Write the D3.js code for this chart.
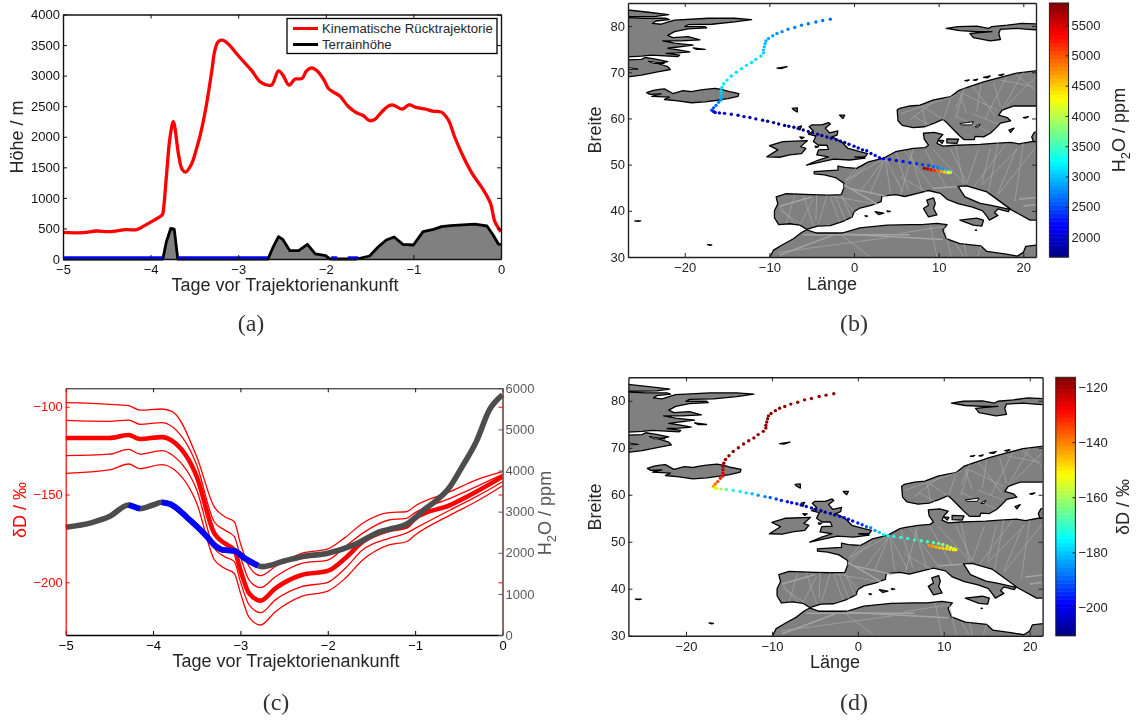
<!DOCTYPE html>
<html><head><meta charset="utf-8">
<script src="https://cdn.jsdelivr.net/npm/d3@7"></script>
<style>html,body{margin:0;background:#fff}svg{display:block;filter:blur(.35px)}text{font-family:"Liberation Sans",Arial,sans-serif;fill:#262626}</style>
</head><body><svg id="c" width="1138" height="720"></svg>
<script>
// ---------- panel (a) ----------
const heightKnots=[[-5,436],[-4.77,430],[-4.62,458],[-4.47,447],[-4.28,480],[-4.16,480],[-4.09,529],[-3.97,627],[-3.87,719],[-3.86,747],[-3.82,1346],[-3.78,1973],[-3.74,2245],[-3.68,1700],[-3.64,1466],[-3.6,1422],[-3.53,1564],[-3.48,1782],[-3.42,2109],[-3.36,2545],[-3.3,3090],[-3.27,3390],[-3.23,3553],[-3.18,3580],[-3.1,3499],[-3.02,3362],[-2.92,3199],[-2.85,3090],[-2.75,2899],[-2.7,2861],[-2.62,2845],[-2.54,3079],[-2.49,3008],[-2.42,2845],[-2.35,2943],[-2.27,2954],[-2.22,3079],[-2.16,3128],[-2.1,3079],[-2.02,2926],[-1.97,2790],[-1.92,2736],[-1.84,2665],[-1.74,2490],[-1.65,2392],[-1.57,2343],[-1.5,2262],[-1.44,2283],[-1.36,2409],[-1.28,2507],[-1.23,2518],[-1.13,2452],[-1.05,2523],[-0.97,2480],[-0.86,2452],[-0.78,2420],[-0.68,2403],[-0.6,2272],[-0.53,2000],[-0.43,1673],[-0.33,1400],[-0.2,1128],[-0.12,910],[-0.07,610],[-0.02,485],[0,447]];
const terrainKnots=[[-5,0],[-3.86,0],[-3.82,283],[-3.77,500],[-3.73,490],[-3.69,0],[-2.66,0],[-2.6,200],[-2.54,365],[-2.49,320],[-2.41,136],[-2.31,136],[-2.21,240],[-2.12,82],[-2,55],[-1.95,0],[-1.65,0],[-1.5,49],[-1.4,200],[-1.31,310],[-1.22,360],[-1.12,240],[-1,229],[-0.89,447],[-0.77,485],[-0.68,529],[-0.58,545],[-0.3,572],[-0.16,540],[-0.09,392],[-0.03,245],[0,240]];
const seaSegments=[[-5,-3.86],[-3.69,-2.66],[-1.94,-1.87],[-1.75,-1.63]];
const legendLabels=["Kinematische Rücktrajektorie","Terrainhöhe"];
const dayTicks=[-5,-4,-3,-2,-1,0];
const heightTicks=[0,500,1000,1500,2000,2500,3000,3500,4000];
// ---------- panel (c) ----------
const isoTimes=[-5,-4.5,-4.28,-4.15,-3.9,-3.78,-3.5,-3.3,-3.18,-3.07,-3,-2.9,-2.77,-2.6,-2.3,-2,-1.8,-1.6,-1.3,-1.1,-1,-0.6,-0.3,0];
const dDupper2=[-97.7,-98.6,-99.4,-101.9,-101.3,-102.8,-128.5,-157,-162.6,-165.5,-177.8,-191,-196.2,-191,-183.5,-181,-174.4,-166.4,-160.3,-159.8,-156.5,-148.4,-141.7,-137];
const dDupper1=[-107.8,-108.3,-107.6,-110,-109,-111.4,-133.2,-165.5,-170.2,-174,-185.4,-198.7,-203,-196.8,-189.2,-187.3,-179.7,-172,-164.5,-163.6,-160.3,-152.2,-145.5,-138.5];
const dDcentre=[-117.8,-117.8,-116.1,-118.4,-117.3,-119.5,-139.8,-172,-177.8,-181.6,-193,-206.3,-210.4,-203.4,-195.8,-193.5,-186.3,-176.9,-170.2,-168.3,-163.6,-156,-148.4,-139.8];
const dDlower1=[-127.9,-127,-124.3,-127,-125,-127.5,-147.4,-180.6,-185.4,-188.2,-199.6,-212.9,-217.3,-210,-202.5,-200,-192,-181.5,-175,-172,-169.3,-158.8,-151.2,-142.7];
const dDlower2=[-138,-136,-132.6,-135.3,-133,-135,-155,-187,-192,-195,-206,-220,-224.3,-216.7,-208,-205,-197.7,-187.3,-178.7,-176.9,-173,-161.7,-154,-145];
const h2oKnots=[[-5,2620],[-4.7,2733],[-4.5,2880],[-4.28,3163],[-4.15,3073],[-4,3163],[-3.9,3228],[-3.8,3180],[-3.6,2838],[-3.4,2433],[-3.3,2190],[-3.2,2068],[-3.07,2044],[-2.95,1865],[-2.8,1687],[-2.75,1663],[-2.5,1800],[-2.3,1906],[-2,1987],[-1.7,2190],[-1.4,2514],[-1.25,2595],[-1.1,2693],[-0.9,3041],[-0.6,3609],[-0.45,4136],[-0.3,4704],[-0.15,5474],[0,5840]];
const blueSegments=[[-4.28,-4.15],[-3.9,-2.8]];
const dDTicks=[-100,-150,-200];
const h2oTicks=[0,1000,2000,3000,4000,5000,6000];
// ---------- maps ----------
const lonTicks=[-20,-10,0,10,20];
const latTicks=[30,40,50,60,70,80];
const land=[
[[-28,83.6],[-26.8,83.5],[-24.3,83],[-21.9,82.5],[-23.4,82.1],[-28,82]],
[[-28,81.9],[-24.7,81.7],[-22.2,81.7],[-21.8,81.4],[-23.4,81.1],[-23.8,80.6],[-22.8,80.4],[-21.2,81.3],[-17.2,81.7],[-14.1,81.7],[-12.1,81.4],[-14.1,80.9],[-16.8,80.4],[-19.6,80.3],[-20,79.9],[-17.6,79.9],[-17.4,79.6],[-19.6,79.4],[-21.2,78.8],[-22,78],[-21.4,77.5],[-19.6,77.7],[-18.2,77],[-20.4,76.8],[-22.6,76.8],[-21.2,76.3],[-19,75.9],[-22,75.2],[-20.6,74.8],[-19.4,74.4],[-20.8,74.2],[-22.2,74.1],[-20.6,73.7],[-20.8,73.4],[-23.9,73.7],[-25.1,73.5],[-28,73.2]],
[[-28,72.6],[-25.1,72.8],[-24.7,73.2],[-23.6,72.9],[-22,72.3],[-23.2,71.9],[-22,71.2],[-21.7,70.6],[-23.2,70.1],[-25.1,69.4],[-28,68.7]],
[[-19,75.3],[-17.6,74.95],[-18.6,74.95]],
[[-9.1,70.9],[-7.9,71.2],[-8.6,70.8]],
[[-7.3,62.2],[-6.7,62.3],[-6.7,61.4],[-7.1,61.8]],
[[-24.5,65.6],[-23.7,66.1],[-23,66.3],[-22.4,66.4],[-21.4,65.4],[-20.2,66],[-19.2,65.8],[-18.4,66.1],[-17.6,66.3],[-16.4,66.5],[-15.7,66.3],[-14.7,65.8],[-13.6,65.4],[-13.7,64.8],[-14.9,64.3],[-15.9,64],[-17.6,63.6],[-19.2,63.4],[-20.8,63.8],[-22.4,64.1],[-21.8,64.6],[-23.9,64.8],[-22.8,65.3],[-24.1,65.2]],
[[10.9,79.5],[12.3,79.9],[14.5,80],[15.9,79.5],[16.3,79.9],[18.1,80.2],[19.8,80.6],[22.5,80.4],[22.5,79.1],[20.6,79.3],[19.2,79.5],[17.3,79.3],[17.1,78.4],[17.3,77.1],[16.1,76.8],[14.1,77.5],[13.7,78.4],[14.9,78.6],[16.3,78.8],[14.5,78.8],[12.5,79]],
[[-5.3,58.2],[-5,58.6],[-3.8,58.6],[-3,59.1],[-2.8,58.8],[-3.4,57.9],[-2.9,56.9],[-1.9,57.3],[-2,56.4],[-2.6,56],[-1.5,55],[-0.7,53.5],[0.7,52.8],[1.6,52.4],[1.3,51.7],[0.1,51.7],[1.3,51.4],[-0.5,51],[-2.4,51.2],[-4.4,50.4],[-5.6,49.9],[-4.2,51],[-3,51.7],[-4.4,52.1],[-4.2,53.2],[-3,53.3],[-3.2,54.2],[-4.2,54.2],[-4.8,55],[-4.5,56.2],[-5.4,56.6],[-4.8,57.3]],
[[-10,54.1],[-8.4,55],[-5.5,55.2],[-6.3,53.9],[-5.7,53.5],[-6.2,52.4],[-7.6,52.1],[-8.8,51.6],[-10.3,51.7],[-9,53.2]],
[[-6.6,58.2],[-6.2,58.4],[-6.4,57.5]],[[-6.4,56],[-5.9,55.9],[-6.2,55.6]],[[-4.6,54],[-4.2,53.9],[-4.5,53.7]],[[-1.7,60.7],[-1.1,60.7],[-1.3,60]],
[[-4.7,48.5],[-3.8,48.6],[-1.9,48.8],[-1.9,49.7],[-1.1,49.4],[0.3,49.2],[1.7,50.6],[3.5,51.4],[4.9,52.8],[5.4,53],[7,53.5],[8.4,53.7],[8.8,54.2],[8.3,55.5],[8.2,56.8],[9.5,57],[10.5,56.5],[10,55.5],[9.8,54.6],[10.5,54],[12,54.2],[13.3,54.3],[14.9,54.4],[16.5,54.6],[18.5,54.8],[19.5,54.5],[21,55],[22.5,55.2],[22.5,38],[20.8,38],[18.6,40.2],[15.7,44.1],[13.3,45.4],[12.3,45.3],[13.1,43],[14.9,41.6],[16.2,41.2],[18.4,40.3],[18.2,39.8],[17,40.4],[16.6,39.6],[17,39],[16,38],[15.7,38.8],[15.2,40],[14,40.8],[12.4,41.5],[11,42.5],[10.2,43.8],[8.8,44.4],[7.5,43.8],[6,43.1],[4.9,43.5],[3.3,43.2],[3.2,42],[2,41.2],[0.7,40.6],[0,39.8],[-0.2,38.7],[-1.3,37.7],[-2.8,36.8],[-4.3,36.7],[-5.6,36],[-6.4,36.9],[-7.6,37.2],[-8.9,37],[-9.4,38.5],[-9.4,40],[-9,41.5],[-9.2,43],[-8,43.7],[-5,43.5],[-3,43.4],[-1.5,43.5],[-1.2,45],[-1.2,46],[-2.2,47.2],[-3.5,47.8],[-4.7,48]],
[[-9.9,29],[-9.9,30.1],[-9.5,31.5],[-8.4,32.7],[-7.2,33.9],[-6.2,35.3],[-5.6,35.9],[-4.5,35.2],[-2.8,35.2],[-1.3,35.2],[0.7,36.3],[3.9,36.9],[6.6,37],[8,37],[9.8,37.3],[11,37],[10.5,35.8],[10.9,34],[12.5,32.9],[15,32.4],[15.7,31.2],[18,30.6],[19.3,30.2],[20,31],[20.3,32.3],[22.5,32.8],[22.5,29]],
[[5.1,61.8],[5.4,62.2],[6.6,62.7],[7.8,62.9],[9.4,64],[11.4,64.7],[12.4,66.1],[13.3,66.7],[15.3,67.9],[17.3,68.9],[19.2,69.8],[21.4,70.3],[22.5,70.5],[22.5,63],[21.4,62.7],[18.9,62.7],[17.5,61.8],[17.1,60.7],[18.1,60.2],[18.5,59.5],[17.3,59],[16.7,57.8],[16.1,56.8],[15.3,56],[14.3,56.1],[14.2,55.4],[13,55.4],[12.5,56.2],[11.8,57.5],[11,59],[10.5,59.8],[9.5,59],[8.3,58.2],[7,58],[5.7,58.5],[5.2,59.5]],
[[22.5,57.5],[21.3,57],[21,56],[21.2,55],[22.5,55]],
[[10.97,55.6],[12.35,55.5],[12.15,54.6],[10.97,54.7]],[[9.98,55.3],[10.6,55.2],[10.4,54.6]],
[[8.6,42.3],[9.4,42.8],[9.6,41.6],[9.4,40.5],[9.8,39.1],[8.8,38.7],[8.2,40.5],[8.8,41.2]],
[[12.5,38],[14.5,38.4],[15.3,38],[15.1,36.7],[14.1,36.9]],
[[1.3,38.95],[1.6,38.85],[1.4,38.75]],[[2.5,39.8],[3.5,39.5],[2.9,39.2]],[[3.9,40],[4.3,39.9],[4,39.8]],
[[18.3,57.5],[18.9,57.9],[18.5,57]],[[20,60.2],[20.6,60.4],[20.3,60.1]],[[-25.9,37.8],[-25.2,37.8],[-25.5,37.7]],[[-17.3,32.7],[-16.8,32.6],[-17,32.5]],[[14.4,35.9],[14.5,35.8],[14.35,35.75]],
[[13.1,68.2],[13.6,68.35],[13.4,68.15]],[[14.1,68.3],[14.6,68.5],[14.4,68.25]],[[15.3,68.9],[16.1,69.2],[15.8,68.8]],[[17.1,69.4],[17.7,69.6],[17.4,69.3]]
];
const lakes=[[[-28,71.4],[-25.5,70.7],[-28,70.5]],[[-24.3,72.4],[-22.4,71.9],[-23.7,71.9]],[[12.5,58.9],[14.1,59.3],[13.9,58.6],[12.7,58.6]],[[14.3,58.2],[14.9,58.8],[14.7,58.1]]];
const streaksThin=[[[3.7,51.4],[4.3,43.8]],[[3.7,51.4],[1.9,43.8]],[[3.7,51.4],[-0.9,46.7]],[[-1.1,46.3],[0.5,49.9]],[[-4.4,43.4],[-4.5,38]],[[-4.8,42.7],[-6.4,36.9]],[[-3.2,43.4],[-4.2,37.3]],[[-2.8,43],[-1.7,37.6]],[[-8.8,40.2],[-6.4,37.3]],[[-1.7,35.1],[2.1,29.7]],[[11.4,53.5],[13.3,45.9]],[[14.7,53.2],[13.3,45.9]],[[19.4,53.5],[15.1,45.6]],[[19.2,53.5],[17,43.8]],[[16.1,53.5],[15.1,45.9]],[[8.4,53.2],[10.9,45.2]],[[9.4,53.2],[13,45.9]],[[5.4,47.4],[8.6,44.1]],[[6.6,53],[8,44.5]],[[11.4,64.3],[10.6,60]],[[9.4,63.6],[6.6,59.7]],[[8.2,62.5],[10.6,59.7]],[[16.5,67.9],[17.3,62.5]],[[17.3,68.3],[21.2,66.9]],[[12.9,65.4],[16.9,61.8]],[[19.2,69.4],[21.4,66.1]],[[13.3,61.1],[12.5,65.4]],[[12.9,65.4],[12,60]],[[15,67.5],[14.5,61.5]],[[7,60.5],[9,58.5]],[[10.6,36.7],[11.5,30]],[[12,33],[13,30]],[[5.4,35.1],[10.6,36.6]],
[[0.7,49.2],[-0.9,46.3]],[[1.7,50.3],[-1.3,44.9]],[[3.7,51.4],[0.7,44.1]],[[3.7,51.4],[5.8,44.1]],[[5,52.4],[6.4,44.5]],[[-8.8,41],[-7,37.2]],[[-7,43.4],[-8,37.3]],[[-6,43.4],[-4.8,36.8]],[[-1.5,43.3],[0,39.8]],[[-1.5,43.3],[-0.3,38.5]],[[-2.2,43.2],[-1,37.8]],[[-2.8,43.2],[2.5,41.5]],[[6,53],[9.5,44.5]],[[7,53.3],[5.5,43.5]],[[12,54.1],[13,45.6]],[[18,54.6],[14.2,45.3]],[[20,54.6],[19,42]],[[22,55],[17,43.5]],[[17,54.7],[15.9,44]],[[5.5,61],[12,65]],[[8,62.8],[8.5,58.3]],[[13,66.5],[12,62]],[[14,67],[16.7,60.5]],[[18,69],[15.5,60]],[[20,70],[17.5,62]],[[21.5,69],[18,62.7]],[[12,60.5],[16,57]],[[14,61],[17,58.8]],[[-9,31],[4,34.2]],[[9,36.9],[9.8,30]],[[13,32.8],[13.4,29.5]],[[15,32.4],[14.5,29.5]]];
const streaksThick=[[[-8.8,30.4],[-2.4,34.8]],[[-6,34.8],[6.6,34.8]],[[-0.5,44.9],[3.9,43.1]],[[-8.8,41],[-5,43]],[[-1.2,45.6],[2.7,41.5]],[[9.4,44.9],[12.1,45.2]],[[-1.3,35],[10.5,33.8]],[[19.5,42.5],[22,43]],[[20,41],[22,41.5]]];
const trackLon=[-2.8,-3.7,-4.5,-5.4,-6.2,-7,-7.8,-8.5,-9.1,-9.6,-10.1,-10.4,-10.5,-10.6,-10.7,-10.7,-11,-11.6,-12.1,-12.7,-13.3,-13.9,-14.5,-15,-15.4,-15.6,-15.7,-15.7,-15.7,-15.7,-16,-16.3,-16.6,-16.8,-16.6,-16.4,-15.9,-15.3,-14.5,-13.7,-13,-12.3,-11.6,-10.8,-10.2,-9.5,-8.9,-8.2,-7.7,-7.1,-6.6,-6,-5.4,-4.9,-4.3,-3.8,-3.2,-2.7,-2.1,-1.6,-1.1,-0.6,0,0.5,1,1.5,2,2.5,3,3.5,4.2,5,5.8,6.6,7.4,8.1,8.8,9.4,9.9,10.4,10.8,11.2,11.4,11.1,10.7,10.3,9.9,9.5,9.1,8.7,8.3];
const trackLat=[81.5,81.2,80.9,80.5,80.2,79.7,79.3,78.8,78.4,77.9,77.3,76.8,76.2,75.5,74.8,74.2,73.5,72.8,72.1,71.5,70.8,70,69.2,68.3,67.5,66.7,66,65.3,64.6,64,63.5,62.8,62.3,61.8,61.5,61.3,61.2,61.1,60.9,60.7,60.4,60.2,59.9,59.6,59.4,59.1,58.8,58.5,58.3,58.1,57.8,57.5,57.2,56.9,56.6,56.3,56,55.7,55.4,55.1,54.8,54.4,54,53.6,53.2,53,52.4,52,51.5,51.3,51.1,50.9,50.7,50.4,50.2,50,49.8,49.6,49.4,49.1,48.8,48.5,48.3,48.3,48.4,48.5,48.6,48.7,48.9,49.05,49.2];
const trackH2O=[2630,2640,2650,2670,2690,2720,2750,2780,2820,2860,2900,2940,2970,3000,3030,3060,3090,3110,3130,3150,3120,3090,3110,3130,3150,3120,3080,3020,2950,2850,2750,2650,2550,2450,2300,2100,2000,1950,1900,1880,1860,1840,1820,1800,1790,1780,1770,1760,1750,1740,1730,1700,1700,1710,1720,1740,1760,1780,1800,1820,1840,1860,1870,1890,1910,1930,1950,1970,2000,2050,2120,2200,2260,2320,2380,2440,2520,2620,2720,2820,2950,3200,3900,4300,4500,4700,4950,5150,5400,5600,5800];
const trackDD=[-118,-118,-118,-118,-118,-118,-118,-118,-118,-118,-118,-118,-118,-118,-118,-118,-118,-118,-118,-118,-118,-118,-118,-118,-118,-119,-120,-122,-125,-128,-131,-134,-138,-143,-150,-155,-160,-168,-172,-175,-178,-181,-184,-187,-190,-193,-196,-198,-200,-202,-204,-206,-207,-208,-209,-209,-208,-207,-205,-203,-201,-199,-196,-193,-190,-186,-183,-180,-177,-175,-173,-172,-171,-170,-169,-168,-166,-164,-162,-160,-158,-155,-151,-150,-149,-148,-147,-146,-145,-143,-141];
const h2oBarTicks=[2000,2500,3000,3500,4000,4500,5000,5500];
const dDBarTicks=[-120,-140,-160,-180,-200];
const captions=["(a)","(b)","(c)","(d)"];

const svg=d3.select("#c");
const minus=v=>String(v).replace("-","\u2212");
const INK="#262626",TICK=13,LAB=18;
function styleAxis(g,color,w){g.selectAll("path.domain").attr("stroke",color).attr("stroke-width",w).attr("fill","none");
  g.selectAll(".tick line").attr("stroke",color).attr("stroke-width",1);
  g.selectAll(".tick text").attr("font-size",TICK).style("fill",color);}
function frameAxes(x,y,xt,yt,opt={}){
  const [l,r]=x.range(),[b,t]=y.range();
  const mk=(a,tr,vals,hideText,pad)=>{const g=svg.append("g").attr("transform",tr);
    a.tickValues(vals).tickSizeInner(-4).tickSizeOuter(0).tickPadding(pad).tickFormat(hideText?"":minus);g.call(a);styleAxis(g,opt.color||INK,opt.w||1.4);return g;};
  mk(d3.axisBottom(x),`translate(0,${t})`,xt,true,5).selectAll(".tick line").attr("y2",4);
  mk(d3.axisRight(y),`translate(${r},0)`,yt,true,3).selectAll(".tick line").attr("x2",-4);
  mk(d3.axisBottom(x),`translate(0,${b})`,xt,false,6);
  mk(d3.axisLeft(y),`translate(${l},0)`,yt,false,3);
}
function label(txt,xp,yp,size,rot,color){const t=svg.append("text").attr("text-anchor","middle").attr("font-size",size).style("fill",color||INK)
  .attr("transform",`translate(${xp},${yp})`+(rot?` rotate(${rot})`:""));t.text(txt);return t;}
function h2oLabel(xp,yp,color){const t=svg.append("text").attr("text-anchor","middle").attr("font-size",LAB).style("fill",color||INK).attr("transform",`translate(${xp},${yp}) rotate(-90)`);
  t.append("tspan").text("H");t.append("tspan").text("2").attr("font-size",13).attr("dy",5);t.append("tspan").text("O / ppm").attr("dy",-5);}
captions.forEach((c,i)=>svg.append("text").attr("x",[251,854,276,854][i]).attr("y",[331,331,710,710][i]).attr("text-anchor","middle").attr("font-size",24).style("font-family","'Liberation Serif',serif").style("fill","#333").text(c));

// panel a
(function(){
  const x=d3.scaleLinear().domain([-5,0]).range([63,501]);
  const y=d3.scaleLinear().domain([0,4000]).range([259,14.5]);
  const area=d3.area().x(d=>x(d[0])).y0(y(0)).y1(d=>y(d[1]));
  const line=d3.line().x(d=>x(d[0])).y(d=>y(d[1])).curve(d3.curveLinear);
  svg.append("path").attr("d",area(terrainKnots)).attr("fill","#808080");
  svg.append("path").attr("d",line(terrainKnots)).attr("fill","none").attr("stroke","#000").attr("stroke-width",2.8).attr("stroke-linejoin","round");
  seaSegments.forEach(s=>svg.append("path").attr("d",line(s.map(t=>[t,0]))).attr("transform","translate(0,-1)").attr("stroke","#0000ff").attr("stroke-width",3.4).attr("fill","none"));
  svg.append("path").attr("d",d3.line().x(d=>x(d[0])).y(d=>y(d[1])).curve(d3.curveCatmullRom.alpha(.5))(heightKnots)).attr("fill","none").attr("stroke","#ff0000").attr("stroke-width",3.3);
  frameAxes(x,y,dayTicks,heightTicks,{color:"#111"});
  svg.append("rect").attr("x",287).attr("y",18.5).attr("width",210).attr("height",35).attr("fill","#fff").attr("stroke","#000").attr("stroke-width",1.3);
  legendLabels.forEach((t,i)=>{const yy=28.5+i*16;
    svg.append("line").attr("x1",293).attr("x2",318).attr("y1",yy).attr("y2",yy).attr("stroke",i?"#000":"#ff0000").attr("stroke-width",3);
    svg.append("text").attr("x",322).attr("y",yy+4.8).attr("font-size",13.2).text(t);});
  label("Tage vor Trajektorienankunft",285,291,LAB);
  label("Höhe / m",23,137,LAB,-90);
})();

// panel c
(function(){
  const x=d3.scaleLinear().domain([-5,0]).range([65.7,502.5]);
  const yl=d3.scaleLinear().domain([-230,-89.5]).range([635,388.3]);
  const yr=d3.scaleLinear().domain([0,6000]).range([635,388.3]);
  const RED="#ff0000",GR="#595959";
  const lineL=d3.line().x(d=>x(d[0])).y(d=>yl(d[1])).curve(d3.curveMonotoneX);
  const lineR=d3.line().x(d=>x(d[0])).y(d=>yr(d[1])).curve(d3.curveMonotoneX);
  [dDupper2,dDupper1,dDlower1,dDlower2,dDcentre].forEach((s,i)=>svg.append("path").attr("d",lineL(isoTimes.map((t,k)=>[t,s[k]]))).attr("fill","none").attr("stroke",RED).attr("stroke-width",i==4?4.6:1.3));
  svg.append("path").attr("d",lineR(h2oKnots)).attr("fill","none").attr("stroke","#4d4d4d").attr("stroke-width",5.6);
  blueSegments.forEach(s=>{svg.append("path").attr("d",lineR(h2oKnots.filter(d=>d[0]>=s[0]&&d[0]<=s[1]))).attr("fill","none").attr("stroke","#0000ff").attr("stroke-width",5.8);});
  const gt=svg.append("g").attr("transform","translate(0,388.3)");gt.call(d3.axisBottom(x).tickValues(dayTicks).tickSizeInner(4).tickSizeOuter(0).tickFormat(""));styleAxis(gt,"#111",1);
  const gb=svg.append("g").attr("transform","translate(0,635)");gb.call(d3.axisBottom(x).tickValues(dayTicks).tickSizeInner(-4).tickSizeOuter(0).tickPadding(6).tickFormat(minus));styleAxis(gb,"#000",1.6);
  const gl=svg.append("g").attr("transform","translate(65.7,0)");gl.call(d3.axisLeft(yl).tickValues(dDTicks).tickSizeInner(-4).tickSizeOuter(0).tickPadding(3).tickFormat(minus));styleAxis(gl,RED,1.2);
  const gm=svg.append("g").attr("transform","translate(502.5,0)");gm.call(d3.axisRight(yl).tickValues(dDTicks).tickSizeInner(-4).tickSizeOuter(0).tickFormat(""));styleAxis(gm,RED,1);
  const gr=svg.append("g").attr("transform","translate(502.5,0)");gr.call(d3.axisRight(yr).tickValues(h2oTicks).tickSizeInner(-4).tickSizeOuter(0).tickPadding(3).tickFormat(d3.format("d")));styleAxis(gr,GR,1.3);
  label("Tage vor Trajektorienankunft",286,667,LAB);
  label("\u03b4D / \u2030",26,510,LAB,-90,RED);
  h2oLabel(551,513,GR);
})();

// maps
function mapPanel(o){
  const x=d3.scaleLinear().domain([-26.7,21.5]).range([o.l,o.r]);
  const y=d3.scaleLinear().domain([30,85]).range([o.b,o.t]);
  const id="clip"+o.id;
  svg.append("clipPath").attr("id",id).append("rect").attr("x",o.l).attr("y",o.t).attr("width",o.r-o.l).attr("height",o.b-o.t);
  const g=svg.append("g").attr("clip-path",`url(#${id})`);
  const poly=d3.line().x(d=>x(d[0])).y(d=>y(d[1])).curve(d3.curveLinearClosed);
  g.selectAll("path.land").data(land).join("path").attr("class","land").attr("d",poly).attr("fill","#808080").attr("stroke","#000").attr("stroke-width",1.3).attr("stroke-linejoin","round");
  const clipStreak=g.append("g");
  clipStreak.selectAll("path.a").data(streaksThin).join("path").attr("class","a").attr("d",d3.line().x(d=>x(d[0])).y(d=>y(d[1]))).attr("stroke","#a8a8a8").attr("stroke-width",0.7);
  clipStreak.selectAll("path.b").data(streaksThick).join("path").attr("class","b").attr("d",d3.line().x(d=>x(d[0])).y(d=>y(d[1]))).attr("stroke","#a4a4a4").attr("stroke-width",1.5);
  g.selectAll("path.lake").data(lakes).join("path").attr("class","lake").attr("d",poly).attr("fill","#fff").attr("stroke","#000").attr("stroke-width",1);
  const jet=d3.scaleLinear().domain([0,.125,.375,.625,.875,1]).range(["#000080","#0000ff","#00ffff","#ffff00","#ff0000","#800000"]).clamp(true);
  const cn=d3.scaleLinear().domain(o.cdom).range([0,1]);
  g.selectAll("circle").data(trackLon.map((v,i)=>[v,trackLat[i],o.val[i]])).join("circle").attr("cx",d=>x(d[0])).attr("cy",d=>y(d[1])).attr("r",1.7).attr("fill",d=>jet(cn(d[2])));
  frameAxes(x,y,lonTicks,latTicks,{color:"#222"});
  const cy=d3.scaleLinear().domain(o.cdom).range([o.b,o.t]);
  const steps=d3.range(64);
  const bh=(o.b-o.t)/64;
  svg.selectAll(null).data(steps).join("rect").attr("x",o.cl).attr("width",o.cr-o.cl).attr("y",d=>o.b-(d+1)*bh).attr("height",bh+0.5).attr("fill",d=>jet((d+.5)/64));
  svg.append("rect").attr("x",o.cl).attr("y",o.t).attr("width",o.cr-o.cl).attr("height",o.b-o.t).attr("fill","none").attr("stroke","#222").attr("stroke-width",1);
  const ga=svg.append("g").attr("transform",`translate(${o.cr},0)`);
  ga.call(d3.axisRight(cy).tickValues(o.cticks).tickSizeInner(-3).tickSizeOuter(0).tickPadding(3).tickFormat(minus));styleAxis(ga,"#222",1);
  ga.selectAll("path.domain").remove();
}
mapPanel({id:"b",l:628,r:1036,t:3,b:257,cl:1049.4,cr:1068.6,cdom:[1670,5865],val:trackH2O,cticks:h2oBarTicks});
mapPanel({id:"d",l:628.4,r:1042.6,t:377.3,b:635.7,cl:1055.8,cr:1075.4,cdom:[-210.3,-116.4],val:trackDD,cticks:dDBarTicks});
label("Länge",832,290,LAB);label("Breite",601,130,LAB,-90);
h2oLabel(1125,130);
label("Länge",835,668,LAB);label("Breite",601,507,LAB,-90);
label("\u03b4D / \u2030",1129,507,LAB,-90);
</script></body></html>
